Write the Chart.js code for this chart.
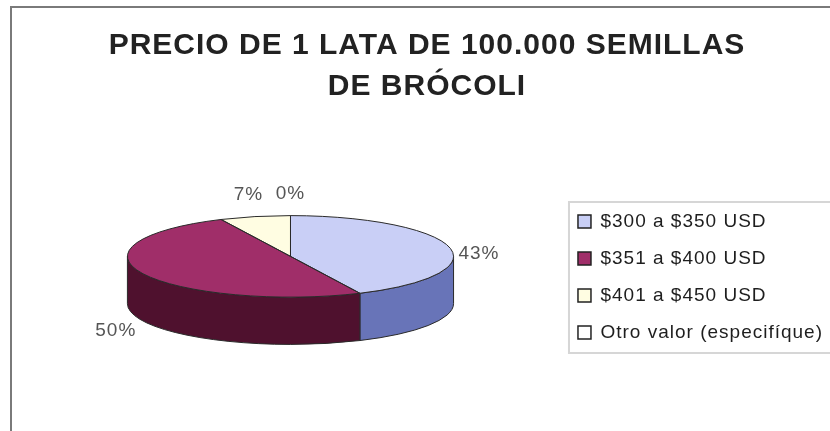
<!DOCTYPE html>
<html lang="es">
<head>
<meta charset="utf-8">
<title>Precio de 1 lata de 100.000 semillas de brócoli</title>
<script src="https://cdn.jsdelivr.net/npm/chart.js@4/dist/chart.umd.min.js"></script>
<style>
  html, body { margin: 0; padding: 0; background: #fff; }
</style>
</head>
<body>
<canvas id="priceChart" width="830" height="431"></canvas>
<script>
// Price ranges and share of answers (%)
const priceRanges = ['$300 a $350 USD', '$351 a $400 USD', '$401 a $450 USD', 'Otro valor (especifíque)'];
const shares = [43, 50, 7, 0];
const titleLines = ['PRECIO DE 1 LATA DE 100.000 SEMILLAS', 'DE BRÓCOLI'];

// Top face colours and the darker rim below them
const topColors = ['#c9cff6', '#a02e69', '#fffde2', '#ffffff'];
const rimColors = ['#6874b8', '#4f112e', '#bdb98f', '#cccccc'];

const FONT = "'Liberation Sans', Arial, sans-serif";
const TILT = 0.25;   // vertical squash of the pie top
const THICK = 0.29;  // rim height relative to the radius

// Ellipse geometry derived from the arcs Chart.js laid out
function pieGeometry(chart) {
  const arcs = chart.getDatasetMeta(0).data;
  const a = arcs[0];
  const R = a.outerRadius;
  const depth = R * THICK;
  return { arcs, cx: a.x, ay: a.y, cy: a.y - depth / 2, rx: R, ry: R * TILT, depth };
}

const pie3d = {
  id: 'pie3d',
  beforeLayout(chart) {
    chart.ctx.letterSpacing = '1px';
  },
  afterLayout(chart) {
    // keep the legend level with the pie instead of the full right column
    const lg = chart.legend;
    const ca = chart.chartArea;
    const dy = (ca.top + ca.bottom) / 2 - (lg.top + lg.bottom) / 2 - 3;
    lg.top += dy;
    lg.bottom += dy;
    lg.left += 3;
    lg.right += 3;
  },
  beforeDraw(chart) {
    const ctx = chart.ctx;
    ctx.letterSpacing = '1px';
    // grey frame round the whole chart
    ctx.save();
    ctx.strokeStyle = '#7a7a7a';
    ctx.lineWidth = 2;
    ctx.strokeRect(11, 7, chart.width, chart.height);
    ctx.restore();
  },
  beforeDatasetsDraw(chart) {
    const ctx = chart.ctx;
    const g = pieGeometry(chart);

    // rim: only the front half (0..PI) is visible
    ctx.save();
    ctx.strokeStyle = '#2a2a2a';
    ctx.lineWidth = 1;
    g.arcs.forEach((arc, i) => {
      const a = Math.max(arc.startAngle, 0);
      const b = Math.min(arc.endAngle, Math.PI);
      if (b - a <= 1e-6) return;
      ctx.beginPath();
      ctx.ellipse(g.cx, g.cy, g.rx, g.ry, 0, a, b);
      ctx.ellipse(g.cx, g.cy + g.depth, g.rx, g.ry, 0, b, a, true);
      ctx.closePath();
      ctx.fillStyle = rimColors[i];
      ctx.fill();
      ctx.stroke();
    });
    ctx.restore();

    // squash the pie so the slices are drawn as the tilted top
    ctx.save();
    ctx.translate(0, g.cy);
    ctx.scale(1, TILT);
    ctx.translate(0, -g.ay);
  },
  afterDatasetsDraw(chart) {
    const ctx = chart.ctx;
    ctx.restore();
    const g = pieGeometry(chart);

    // slice outlines on the top face
    ctx.save();
    ctx.strokeStyle = '#2a2a2a';
    ctx.lineWidth = 1;
    g.arcs.forEach((arc) => {
      if (arc.endAngle - arc.startAngle <= 1e-6) return;
      ctx.beginPath();
      ctx.moveTo(g.cx, g.cy);
      ctx.ellipse(g.cx, g.cy, g.rx, g.ry, 0, arc.startAngle, arc.endAngle);
      ctx.closePath();
      ctx.stroke();
    });

    // percentage labels outside each slice
    const total = shares.reduce((s, v) => s + v, 0);
    ctx.font = '19px ' + FONT;
    ctx.fillStyle = '#555';
    ctx.textAlign = 'center';
    ctx.textBaseline = 'middle';
    g.arcs.forEach((arc, i) => {
      const mid = (arc.startAngle + arc.endAngle) / 2;
      const c = Math.cos(mid);
      const s = Math.sin(mid);
      const x = g.cx + (g.rx + 30) * c;
      const y = g.cy + (g.ry + 22) * s + g.depth * Math.min(1, Math.max(0, 0.5 + 1.2 * s));
      ctx.fillText(Math.round(shares[i] / total * 100) + '%', x, y);
    });
    ctx.restore();
  },
  afterDraw(chart) {
    // light box round the legend
    const hb = chart.legend.legendHitBoxes;
    if (!hb || !hb.length) return;
    const first = hb[0];
    const last = hb[hb.length - 1];
    const top = first.top - 10;
    const ctx = chart.ctx;
    ctx.save();
    ctx.strokeStyle = '#d6d6d6';
    ctx.lineWidth = 2;
    ctx.strokeRect(first.left - 9, top, chart.width, last.top + last.height + 11 - top);
    ctx.restore();
  }
};

new Chart(document.getElementById('priceChart'), {
  type: 'pie',
  data: {
    labels: priceRanges,
    datasets: [{
      data: shares,
      backgroundColor: topColors,
      borderWidth: 0,
      radius: '108%',
      clip: false
    }]
  },
  options: {
    responsive: false,
    animation: false,
    events: [],
    layout: { padding: { left: 24, right: 0, top: 8, bottom: 0 } },
    plugins: {
      title: {
        display: true,
        text: titleLines,
        color: '#222',
        font: { family: FONT, size: 30, weight: 'bold', lineHeight: 1.367 },
        padding: { top: 17, bottom: 22 }
      },
      legend: {
        position: 'right',
        labels: {
          font: { family: FONT, size: 19 },
          color: '#1e1e1e',
          boxWidth: 13,
          boxHeight: 13,
          padding: 18,
          generateLabels(chart) {
            const items = Chart.overrides.doughnut.plugins.legend.labels.generateLabels(chart);
            items.forEach((it) => {
              it.strokeStyle = '#222';
              it.lineWidth = 1.5;
            });
            return items;
          }
        }
      },
      tooltip: { enabled: false }
    }
  },
  plugins: [pie3d]
});
</script>
</body>
</html>
